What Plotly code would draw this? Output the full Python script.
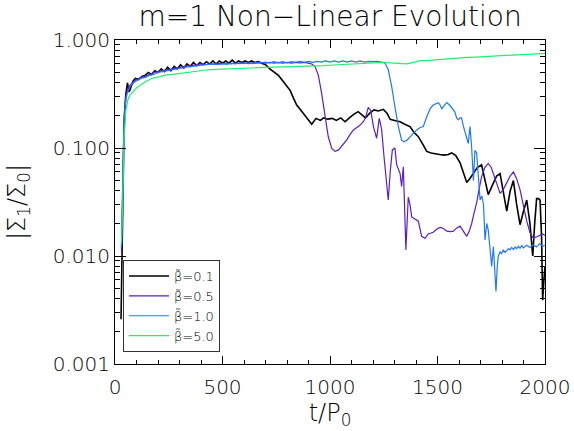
import plotly.graph_objects as go

# beta = 0.1 (black)
t_01 = [28, 35, 42, 50, 58, 66, 75, 85, 95, 110, 125, 140, 155, 170, 185, 200, 215, 230, 245, 260,
        275, 290, 305, 320, 335, 350, 365, 380, 395, 410, 425, 440, 455, 470, 485, 500, 515, 530,
        545, 560, 575, 590, 605, 620, 635, 650, 665, 680, 700, 720, 740, 760, 780, 800, 815, 830,
        845, 860, 876, 895, 915, 935, 955, 970, 990, 1010, 1030, 1050, 1070, 1090, 1110, 1131,
        1150, 1165, 1185, 1205, 1225, 1248, 1265, 1280, 1300, 1326, 1350, 1372, 1390, 1410, 1430,
        1450, 1470, 1490, 1510, 1530, 1550, 1566, 1585, 1605, 1620, 1636, 1650, 1667, 1685, 1705,
        1720, 1736, 1755, 1775, 1791, 1805, 1822, 1838, 1853, 1868, 1884, 1900, 1915, 1930, 1943,
        1952, 1961, 1970, 1977, 1984, 1989, 1995, 2000]
v_01 = [0.0026, 0.02, 0.15, 0.31, 0.40, 0.33, 0.38, 0.42, 0.44, 0.43, 0.46, 0.47, 0.50, 0.48,
        0.52, 0.50, 0.54, 0.51, 0.56, 0.52, 0.57, 0.54, 0.59, 0.55, 0.60, 0.57, 0.62, 0.58, 0.62,
        0.59, 0.63, 0.60, 0.64, 0.60, 0.64, 0.61, 0.64, 0.61, 0.65, 0.61, 0.64, 0.62, 0.64, 0.62,
        0.64, 0.62, 0.63, 0.61, 0.59, 0.54, 0.50, 0.47, 0.42, 0.37, 0.34, 0.29, 0.25, 0.23, 0.21,
        0.19, 0.166, 0.188, 0.18, 0.19, 0.185, 0.188, 0.18, 0.19, 0.175, 0.19, 0.205, 0.217, 0.20,
        0.19, 0.21, 0.225, 0.22, 0.228, 0.21, 0.184, 0.18, 0.175, 0.165, 0.158, 0.14, 0.128, 0.11,
        0.093, 0.09, 0.088, 0.087, 0.086, 0.087, 0.09, 0.085, 0.073, 0.06, 0.048, 0.052, 0.058,
        0.066, 0.07, 0.05, 0.037, 0.045, 0.055, 0.058, 0.04, 0.026, 0.04, 0.05, 0.03, 0.0195,
        0.026, 0.033, 0.02, 0.01, 0.02, 0.034, 0.034, 0.033, 0.015, 0.0039, 0.006, 0.008]

# beta = 0.5 (purple)
t_05 = [30, 36, 42, 50, 60, 70, 85, 100, 120, 140, 160, 180, 200, 220, 240, 260, 280, 300, 320,
        340, 360, 380, 400, 420, 440, 460, 480, 500, 520, 540, 560, 580, 600, 620, 640, 660, 680,
        700, 720, 740, 760, 780, 800, 820, 840, 860, 880, 900, 915, 930, 946, 961, 977, 992, 1008,
        1023, 1040, 1060, 1078, 1095, 1109, 1125, 1140, 1155, 1165, 1178, 1190, 1202, 1217, 1229,
        1240, 1252, 1264, 1271, 1280, 1290, 1302, 1310, 1326, 1333, 1341, 1353, 1364, 1372, 1380,
        1395, 1411, 1426, 1442, 1457, 1480, 1497, 1512, 1528, 1543, 1560, 1574, 1590, 1605, 1620,
        1636, 1648, 1659, 1670, 1682, 1694, 1705, 1720, 1736, 1750, 1760, 1775, 1791, 1805, 1822,
        1838, 1853, 1868, 1884, 1900, 1915, 1930, 1946, 1960, 1977, 1990, 2000]
v_05 = [0.011, 0.05, 0.2, 0.3, 0.36, 0.38, 0.41, 0.43, 0.45, 0.46, 0.48, 0.50, 0.51, 0.52, 0.53,
        0.54, 0.55, 0.56, 0.57, 0.575, 0.58, 0.59, 0.60, 0.59, 0.605, 0.595, 0.61, 0.60, 0.615,
        0.60, 0.615, 0.605, 0.615, 0.605, 0.615, 0.61, 0.62, 0.61, 0.62, 0.61, 0.62, 0.61, 0.62,
        0.61, 0.62, 0.615, 0.62, 0.61, 0.60, 0.57, 0.47, 0.32, 0.195, 0.127, 0.099, 0.093, 0.096,
        0.108, 0.119, 0.135, 0.147, 0.155, 0.163, 0.175, 0.19, 0.238, 0.22, 0.158, 0.123, 0.188,
        0.15, 0.08, 0.041, 0.033, 0.06, 0.096, 0.10, 0.07, 0.058, 0.044, 0.067, 0.0114, 0.035,
        0.03, 0.023, 0.022, 0.021, 0.0152, 0.0146, 0.016, 0.0166, 0.0178, 0.0184, 0.018, 0.017,
        0.0168, 0.017, 0.0182, 0.0189, 0.017, 0.0152, 0.017, 0.02, 0.025, 0.031, 0.042, 0.054,
        0.066, 0.072, 0.066, 0.058, 0.046, 0.038, 0.041, 0.047, 0.055, 0.06, 0.052, 0.041, 0.029,
        0.021, 0.0165, 0.0146, 0.015, 0.0156, 0.016, 0.0155]

# beta = 1.0 (blue)
t_10 = [30, 36, 42, 50, 60, 70, 85, 100, 120, 140, 160, 180, 200, 220, 240, 260, 280, 300, 320,
        340, 360, 380, 400, 420, 440, 460, 480, 500, 520, 540, 560, 580, 600, 620, 640, 660, 680,
        700, 720, 740, 760, 780, 800, 820, 840, 860, 880, 900, 920, 940, 960, 980, 1000, 1020,
        1040, 1060, 1080, 1100, 1120, 1140, 1160, 1180, 1200, 1220, 1240, 1256, 1271, 1287, 1302,
        1318, 1333, 1344, 1358, 1372, 1387, 1403, 1420, 1434, 1450, 1465, 1480, 1496, 1504, 1512,
        1520, 1530, 1543, 1556, 1566, 1581, 1589, 1597, 1605, 1612, 1620, 1628, 1636, 1643, 1651,
        1659, 1667, 1674, 1682, 1690, 1698, 1706, 1714, 1721, 1729, 1736, 1744, 1752, 1760, 1766,
        1772, 1778, 1783, 1791, 1798, 1806, 1814, 1822, 1830, 1837, 1845, 1853, 1861, 1868, 1876,
        1884, 1892, 1900, 1915, 1930, 1945, 1960, 1975, 1990, 2000]
v_10 = [0.012, 0.04, 0.18, 0.28, 0.34, 0.37, 0.40, 0.42, 0.44, 0.45, 0.47, 0.48, 0.50, 0.51,
        0.52, 0.53, 0.54, 0.55, 0.56, 0.565, 0.57, 0.58, 0.585, 0.59, 0.595, 0.60, 0.59, 0.605,
        0.595, 0.61, 0.60, 0.615, 0.605, 0.615, 0.605, 0.62, 0.61, 0.625, 0.615, 0.63, 0.615,
        0.63, 0.615, 0.63, 0.62, 0.635, 0.62, 0.635, 0.62, 0.635, 0.625, 0.64, 0.625, 0.64, 0.625,
        0.64, 0.625, 0.64, 0.625, 0.64, 0.625, 0.635, 0.63, 0.635, 0.625, 0.61, 0.53, 0.37, 0.24,
        0.158, 0.119, 0.114, 0.118, 0.127, 0.135, 0.147, 0.155, 0.158, 0.195, 0.23, 0.25, 0.26,
        0.263, 0.25, 0.23, 0.245, 0.263, 0.25, 0.233, 0.215, 0.19, 0.182, 0.19, 0.19, 0.16, 0.14,
        0.125, 0.11, 0.158, 0.10, 0.05, 0.095, 0.09, 0.05, 0.033, 0.036, 0.03, 0.0141, 0.02,
        0.0174, 0.012, 0.008, 0.0122, 0.008, 0.0047, 0.008, 0.01, 0.0109, 0.0105, 0.0114, 0.0108,
        0.0112, 0.0117, 0.0114, 0.012, 0.0115, 0.0121, 0.0117, 0.0123, 0.0118, 0.0125, 0.0119,
        0.0126, 0.012, 0.0127, 0.0121, 0.013, 0.0123, 0.0126]

# beta = 5.0 (green)
t_50 = [30, 36, 42, 50, 60, 70, 84, 100, 115, 131, 150, 170, 190, 210, 240, 270, 300, 330, 360,
        395, 430, 470, 510, 550, 590, 630, 670, 705, 750, 800, 860, 920, 970, 1015, 1060, 1110,
        1171, 1210, 1248, 1280, 1320, 1357, 1390, 1419, 1450, 1481, 1530, 1574, 1610, 1636, 1680,
        1713, 1750, 1791, 1830, 1868, 1905, 1945, 1975, 2000]
v_50 = [0.013, 0.03, 0.12, 0.22, 0.28, 0.31, 0.33, 0.36, 0.38, 0.40, 0.42, 0.44, 0.45, 0.46,
        0.475, 0.48, 0.49, 0.50, 0.51, 0.52, 0.53, 0.535, 0.54, 0.547, 0.55, 0.552, 0.555, 0.557,
        0.56, 0.563, 0.566, 0.575, 0.58, 0.587, 0.595, 0.60, 0.61, 0.615, 0.62, 0.615, 0.605,
        0.60, 0.62, 0.643, 0.645, 0.653, 0.665, 0.677, 0.68, 0.69, 0.695, 0.70, 0.71, 0.716, 0.72,
        0.73, 0.735, 0.742, 0.748, 0.753]

series = [
    ("β̃=0.1", t_01, v_01, "#000000", 1.6),
    ("β̃=0.5", t_05, v_05, "#5a1ec8", 1.2),
    ("β̃=1.0", t_10, v_10, "#1e78ff", 1.2),
    ("β̃=5.0", t_50, v_50, "#1ef06e", 1.2),
]

fig = go.Figure()
for name, t, v, c, w in series:
    fig.add_trace(go.Scatter(x=t, y=v, mode="lines", name=name,
                             line=dict(color=c, width=w)))

font = dict(family="DejaVu Sans", size=20, color="#000000", weight=200)

fig.update_layout(
    width=574, height=431,
    margin=dict(l=115, r=29, t=40, b=67, autoexpand=False),
    paper_bgcolor="white", plot_bgcolor="white",
    font=font,
    showlegend=True,
    title=dict(text="m=1 Non−Linear Evolution", x=0.575, xanchor="center",
               y=1 - 16 / 431, yanchor="middle",
               font=dict(size=28, family="DejaVu Sans", weight=200)),
    legend=dict(x=0.0186, y=0.037, xanchor="left", yanchor="bottom",
                bgcolor="white", bordercolor="#333333", borderwidth=1,
                font=dict(size=13, family="DejaVu Sans", weight=200),
                tracegroupgap=0, itemwidth=40),
    xaxis=dict(range=[0, 2000], tickvals=[0, 500, 1000, 1500, 2000], automargin=False,
               ticks="inside", ticklen=8, tickcolor="black", ticklabelstandoff=5,
               showline=True, linecolor="black", linewidth=1, mirror="ticks",
               showgrid=False, zeroline=False,
               minor=dict(dtick=100, ticks="inside", ticklen=4, tickcolor="black", showgrid=False),
               title=dict(text="t/P<sub>0</sub>", standoff=4)),
    yaxis=dict(type="log", range=[-3, 0], dtick=1, tickformat=".3f", automargin=False,
               ticks="inside", ticklen=11, tickcolor="black",
               showline=True, linecolor="black", linewidth=1, mirror="ticks",
               showgrid=False, zeroline=False,
               minor=dict(dtick="D1", ticks="inside", ticklen=5, tickcolor="black", showgrid=False),
               title=dict(text="|Σ<sub>1</sub>/Σ<sub>0</sub>|", standoff=20)),
)

fig.write_html("out.html")
